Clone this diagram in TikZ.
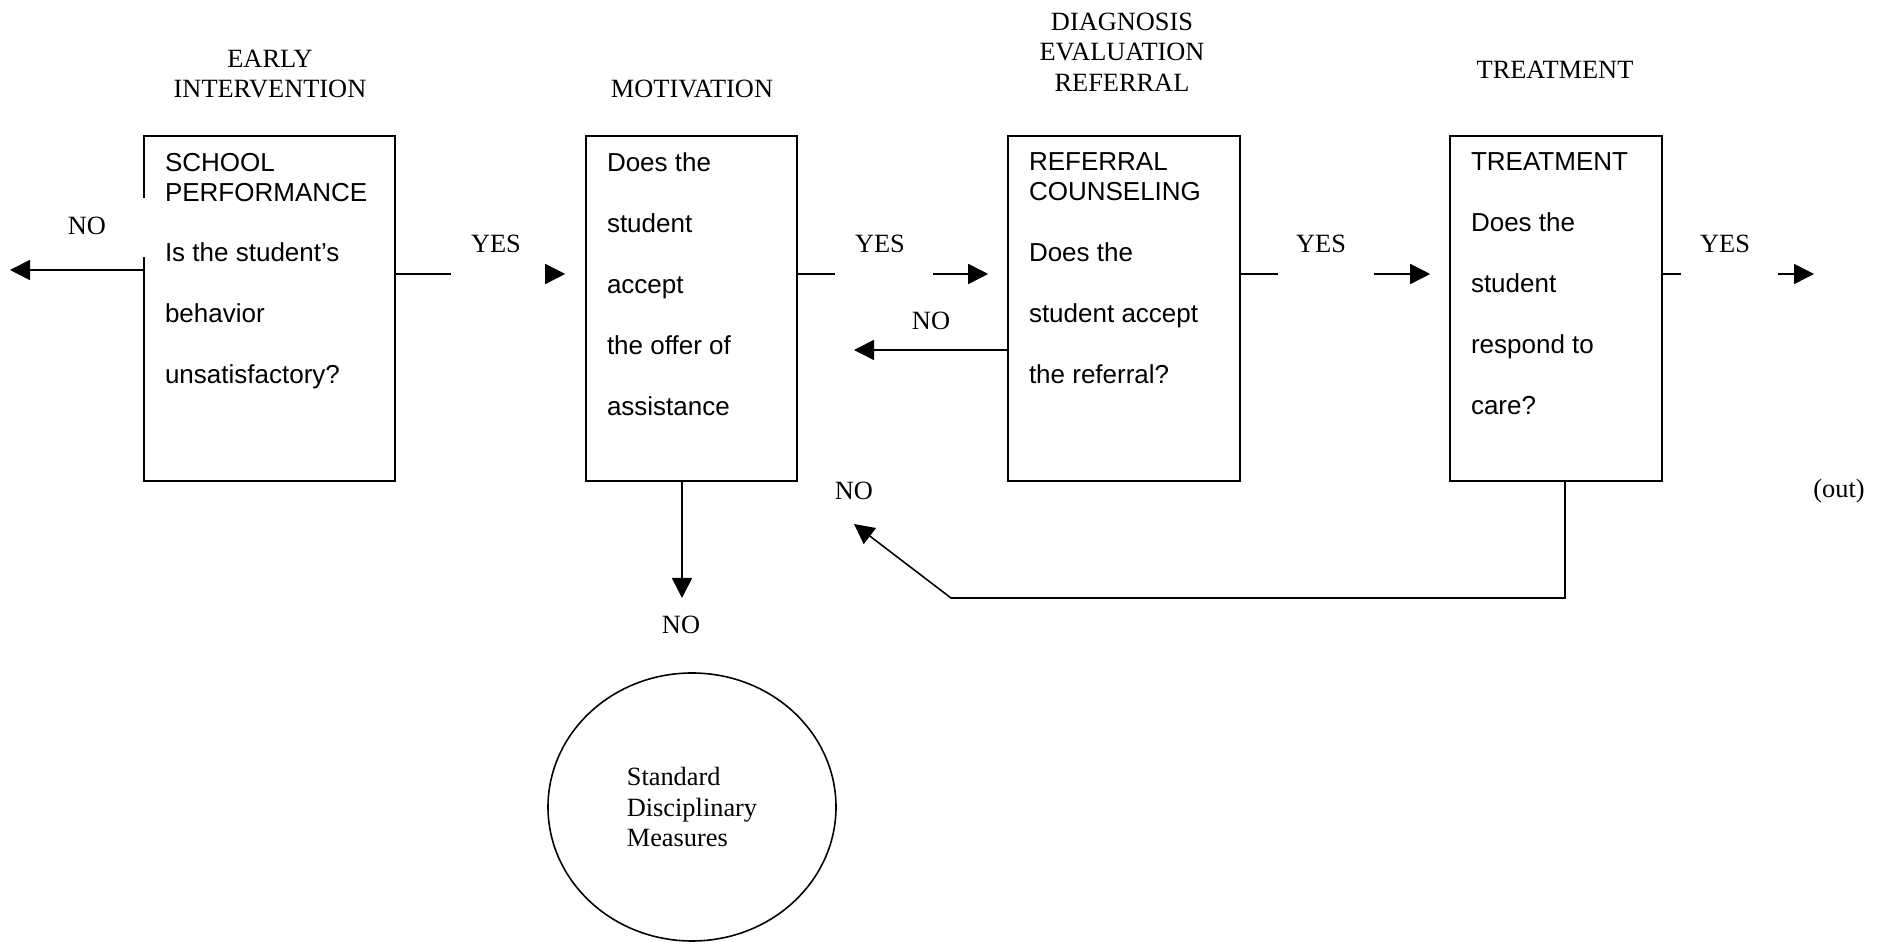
\documentclass[tikz,border=0pt]{standalone}
\usepackage{fontspec}
\setmainfont{Liberation Serif}
\setsansfont{Liberation Sans}
\usetikzlibrary{arrows.meta,shapes.geometric,positioning}
\tikzset{
  stepbox/.style={draw, minimum height=3.45cm, inner sep=0pt},
  boxtext/.style={inner sep=0pt, align=left, font=\sffamily\fontsize{7.4pt}{8.5pt}\selectfont},
  head/.style={align=center, inner sep=0pt, font=\fontsize{7.5pt}{8.7pt}\selectfont},
  lbl/.style={inner sep=0pt, font=\fontsize{7.5pt}{9pt}\selectfont},
  arr/.style={-{Triangle[length=2mm,width=2mm]}}
}
\begin{document}
\begin{tikzpicture}[line width=0.45pt]
\useasboundingbox (0,0) rectangle (18.87,-9.42);

\node[head] (h1) at (2.70,-0.74) {EARLY\\INTERVENTION};
\node[head] (h2) at (6.92,-0.89) {MOTIVATION};
\node[head] (h3) at (11.22,-0.52) {DIAGNOSIS\\EVALUATION\\REFERRAL};
\node[head] (h4) at (15.55,-0.70) {TREATMENT};

\node[stepbox, minimum width=2.51cm] (b1) at (2.695,-3.085) {};
\node[stepbox, minimum width=2.11cm] (b2) at (6.915,-3.085) {};
\node[stepbox, minimum width=2.32cm] (b3) at (11.24,-3.085) {};
\node[stepbox, minimum width=2.12cm] (b4) at (15.56,-3.085) {};
\draw[white, line width=1.2pt] (1.44,-1.98) -- (1.44,-2.57);

\node[boxtext, below right=0.17cm and 0.21cm of b1.north west] (t1)
  {SCHOOL\\PERFORMANCE\\[8.8pt]Is the student’s\\[8.8pt]behavior\\[8.8pt]unsatisfactory?};
\node[boxtext, below right=0.17cm and 0.21cm of b2.north west] (t2)
  {Does the\\[8.8pt]student\\[8.8pt]accept\\[8.8pt]the offer of\\[8.8pt]assistance};
\node[boxtext, below right=0.17cm and 0.21cm of b3.north west] (t3)
  {REFERRAL\\COUNSELING\\[8.8pt]Does the\\[8.8pt]student accept\\[8.8pt]the referral?};
\node[boxtext, below right=0.17cm and 0.21cm of b4.north west] (t4)
  {TREATMENT\\[8.8pt]Does the\\[8.8pt]student\\[8.8pt]respond to\\[8.8pt]care?};

\node[lbl] (no1) at (0.87,-2.26) {NO};
\coordinate (n1) at (0.10,-2.70);
\draw[arr] (b1.west |- n1) -- (n1);

\coordinate (y1) at (4.51,-2.74);
\draw (b1.east |- y1) -- (y1);
\node[lbl] (yes1) at (4.96,-2.44) {YES};
\coordinate (a1) at (5.46,-2.74);
\draw[arr, shorten >=2mm] (a1) -- (b2.west |- a1);

\coordinate (y2) at (8.35,-2.74);
\draw (b2.east |- y2) -- (y2);
\node[lbl] (yes2) at (8.80,-2.44) {YES};
\coordinate (a2) at (9.33,-2.74);
\draw[arr, shorten >=1.9mm] (a2) -- (b3.west |- a2);

\node[lbl] (no2) at (9.31,-3.21) {NO};
\coordinate (n2) at (8.54,-3.50);
\draw[arr] (b3.west |- n2) -- (n2);

\coordinate (y3) at (12.78,-2.74);
\draw (b3.east |- y3) -- (y3);
\node[lbl] (yes3) at (13.21,-2.44) {YES};
\coordinate (a3) at (13.74,-2.74);
\draw[arr, shorten >=1.9mm] (a3) -- (b4.west |- a3);

\coordinate (y4) at (16.81,-2.74);
\draw (b4.east |- y4) -- (y4);
\node[lbl] (yes4) at (17.25,-2.44) {YES};
\coordinate (a4) at (17.78,-2.74);
\coordinate (a5) at (18.14,-2.74);
\draw[arr] (a4) -- (a5);
\node[lbl] (out) at (18.39,-4.91) {(out)};

\node[lbl] (no3) at (8.54,-4.91) {NO};
\coordinate (f1) at (15.65,-5.98);
\coordinate (f2) at (9.51,-5.98);
\coordinate (f3) at (8.54,-5.24);
\draw[arr] (b4.south -| f1) -- (f1) -- (f2) -- (f3);

\coordinate (d2) at (6.82,-5.98);
\draw[arr] (b2.south -| d2) -- (d2);
\node[lbl] (no4) at (6.81,-6.25) {NO};

\node[ellipse, draw, minimum width=2.88cm, minimum height=2.68cm, inner sep=0pt,
  align=left, font=\fontsize{7.5pt}{8.8pt}\selectfont] (sdm) at (6.92,-8.07)
  {Standard\\Disciplinary\\Measures};
\end{tikzpicture}
\end{document}
